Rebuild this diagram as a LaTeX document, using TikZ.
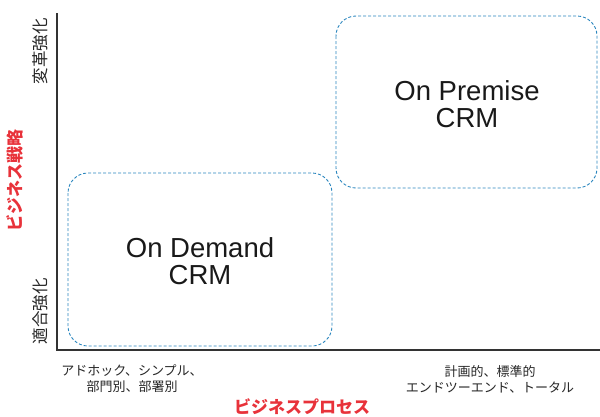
\documentclass[tikz,border=0pt]{standalone}
\usepackage{fontspec}
\setmainfont{Liberation Sans}
\newfontfamily\jp{Noto Sans CJK JP}
\definecolor{axisgray}{HTML}{333333}
\definecolor{dashblue}{HTML}{2A86BE}
\definecolor{labred}{HTML}{E8323A}
\begin{document}
\begin{tikzpicture}[x=1pt,y=-1pt,
  quad/.style={draw=dashblue, dashed, dash pattern=on 3pt off 2pt, line width=0.9pt, rounded corners=20pt},
  big/.style={font=\fontsize{27.5}{27}\selectfont, align=center, text=black!90},
  ylab/.style={font=\jp\fontsize{16.5}{18}\selectfont, rotate=90, text=black!85},
  xlab/.style={font=\jp\fontsize{13}{16}\selectfont, align=center, text=black!85},
  redlab/.style={font=\jp\fontsize{17}{18}\selectfont\bfseries, text=labred}]
\useasboundingbox (0,0) rectangle (600,416);
\coordinate (top) at (57,13);
\coordinate (origin) at (57,350);
\coordinate (right) at (600,350);
\draw[axisgray, line width=1.2pt] (top) -- (origin) -- (right);
\draw[quad] (68,173) rectangle (332,346);
\draw[quad] (336,16) rectangle (597,188);
\node[big] (od) at (200,261) {On Demand\\CRM};
\node[big] (op) at (467,104) {On Premise\\CRM};
\node[ylab] (hi) at (40,51) {変革強化};
\node[ylab] (lo) at (40,311) {適合強化};
\node[redlab, rotate=90] (ya) at (15,180) {ビジネス戦略};
\node[xlab] (xl) at (132,379) {アドホック、シンプル、\\部門別、部署別};
\node[xlab] (xr) at (490,379) {計画的、標準的\\エンドツーエンド、トータル};
\node[redlab] (xa) at (302,407) {ビジネスプロセス};
\end{tikzpicture}
\end{document}
